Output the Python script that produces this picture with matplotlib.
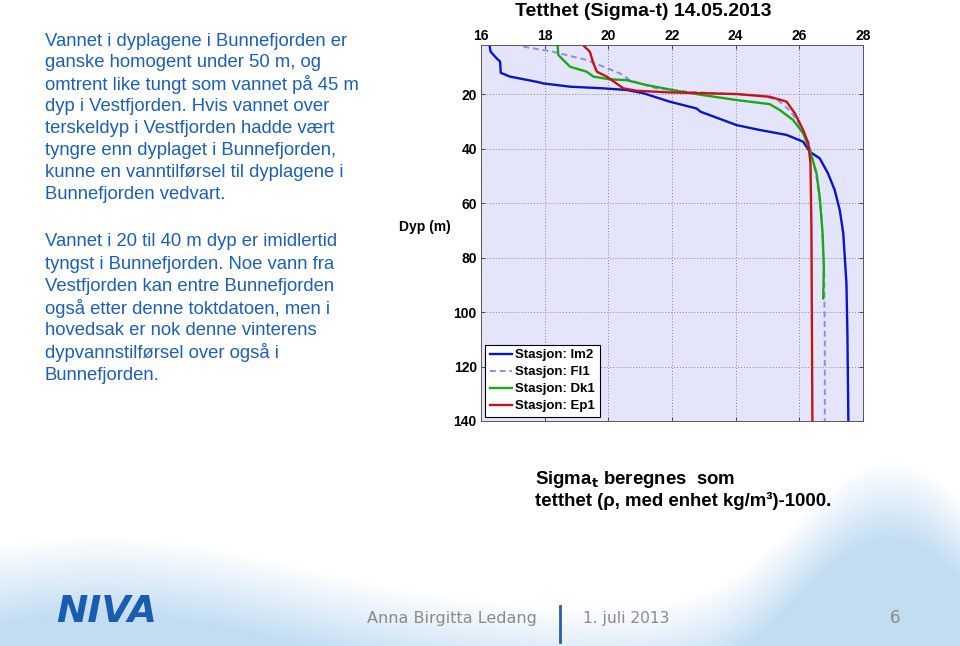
import numpy as np
import matplotlib
matplotlib.use("Agg")
import matplotlib.pyplot as plt
from matplotlib.lines import Line2D

# ---------------- data ----------------
im2_sigma = [16.26, 16.30, 16.49, 16.60, 16.62, 16.91, 17.75, 17.96, 18.80, 19.83, 20.57, 21.10,
             21.93, 22.77, 22.90, 24.03, 24.76, 25.60, 26.12, 26.33, 26.64, 26.90, 27.11, 27.27,
             27.38, 27.48, 27.51, 27.54]
im2_depth = [1.5, 4.4, 6.9, 8.1, 12.2, 13.6, 15.5, 16.1, 17.3, 17.9, 18.5, 19.7,
             22.8, 25.3, 26.5, 31.4, 33.2, 35.0, 37.5, 41.2, 43.6, 49.1, 55.2, 62.6,
             71.1, 89.5, 107.8, 139.6]

fl1_sigma = [17.33, 18.27, 19.32, 20.36, 20.68, 21.50, 22.46, 23.50, 24.70, 25.30, 25.70, 26.00,
             26.30, 26.54, 26.70, 26.78, 26.80, 26.80]
fl1_depth = [2.6, 4.5, 7.5, 12.4, 14.9, 17.9, 19.1, 19.8, 20.4, 22.0, 26.0, 31.0,
             38.0, 50.3, 65.0, 85.0, 110.0, 140.0]

dk1_sigma = [18.40, 18.43, 18.80, 19.32, 19.53, 20.05, 20.57, 21.20, 22.14, 22.98, 24.03, 25.07,
             25.39, 25.80, 26.12, 26.33, 26.54, 26.64, 26.73, 26.77, 26.75]
dk1_depth = [1.5, 5.7, 10.0, 11.8, 13.6, 14.6, 14.9, 16.7, 18.8, 20.4, 22.2, 23.7,
             25.9, 29.5, 34.4, 40.6, 49.1, 57.7, 71.1, 83.4, 95.0]

ep1_sigma = [19.16, 19.42, 19.53, 19.64, 19.95, 20.47, 20.89, 21.93, 24.03, 25.07, 25.60, 25.86,
             26.12, 26.28, 26.35, 26.38, 26.41]
ep1_depth = [1.5, 4.5, 8.7, 11.8, 13.6, 17.9, 18.8, 19.4, 20.0, 21.0, 22.8, 27.1,
             33.2, 38.1, 45.4, 69.9, 139.6]

station_labels = ["Stasjon: Im2", "Stasjon: Fl1", "Stasjon: Dk1", "Stasjon: Ep1"]
x_ticks = [16, 18, 20, 22, 24, 26, 28]
y_ticks = [20, 40, 60, 80, 100, 120, 140]

# ---------------- figure ----------------
W, H = 960, 646
fig = plt.figure(figsize=(W / 100, H / 100), dpi=100)
fig.patch.set_facecolor("white")

# decorative background wave
bg = fig.add_axes([0, 0, 1, 1], zorder=-10)
X, Y = np.meshgrid(np.arange(W), np.arange(H))
curve = 610 - 150 * np.exp(-((X - 890) / 130.0) ** 2) - 75 * np.exp(-((X - 100) / 280.0) ** 2)
a = np.clip((Y - curve) / 80.0, 0, 1) * 0.7
a = np.clip(a, 0, 1)
blue = np.array([0.66, 0.81, 0.93])
img = (1 - a[..., None]) * np.ones(3) + a[..., None] * blue
bg.imshow(img, extent=[0, W, H, 0], aspect="auto", interpolation="bilinear")
bg.set_xlim(0, W)
bg.set_ylim(H, 0)
bg.axis("off")

# chart axes
ax = fig.add_axes([481 / W, 1 - 421 / H, (863 - 481) / W, (421 - 45) / H])
ax.set_facecolor("#e4e4fa")
ax.plot(im2_sigma, im2_depth, color="#0a14c8", lw=1.7, label=station_labels[0])
ax.plot(fl1_sigma, fl1_depth, color="#8c8ce6", lw=1.4, ls=(0, (3, 2)), label=station_labels[1])
ax.plot(dk1_sigma, dk1_depth, color="#1aa81a", lw=1.7, label=station_labels[2])
ax.plot(ep1_sigma, ep1_depth, color="#c41414", lw=1.7, label=station_labels[3])

ax.set_xlim(16, 28)
ax.set_ylim(140, 2)
ax.xaxis.tick_top()
ax.set_xticks(x_ticks)
ax.set_yticks(y_ticks)
ax.tick_params(direction="in", length=3, width=0.6, colors="#333333", labelcolor="black",
               top=True, bottom=True, left=True, right=True)
ax.tick_params(axis="x", pad=1.5)
ax.tick_params(axis="y", pad=3)
for lab in ax.get_xticklabels() + ax.get_yticklabels():
    lab.set_fontfamily("Liberation Sans")
    lab.set_fontweight("bold")
    lab.set_fontsize(10)
ax.grid(True, ls=(0, (1, 2)), color="#888888", lw=0.7)
for s in ax.spines.values():
    s.set_color("#555555")
    s.set_linewidth(0.7)

leg = ax.legend(loc="lower left", frameon=True, fancybox=False, handlelength=1.7,
                borderpad=0.35, labelspacing=0.36, handletextpad=0.25, borderaxespad=0.3,
                prop={"family": "Liberation Sans", "weight": "bold", "size": 9.5})
leg.get_frame().set_edgecolor("black")
leg.get_frame().set_linewidth(0.8)
leg.get_frame().set_facecolor("white")
leg.get_frame().set_alpha(1)

fig.text(643 / W, 1 - 11 / H, "Tetthet (Sigma-t) 14.05.2013", ha="center", va="center",
         fontsize=14, fontweight="bold", family="Liberation Sans")
fig.text(425 / W, 1 - 227 / H, "Dyp (m)", ha="center", va="center",
         fontsize=10, fontweight="bold", family="Liberation Sans")

# left text
txt_color = "#1c5fb4"
para1 = ["Vannet i dyplagene i Bunnefjorden er",
         "ganske homogent under 50 m, og",
         "omtrent like tungt som vannet på 45 m",
         "dyp i Vestfjorden. Hvis vannet over",
         "terskeldyp i Vestfjorden hadde vært",
         "tyngre enn dyplaget i Bunnefjorden,",
         "kunne en vanntilførsel til dyplagene i",
         "Bunnefjorden vedvart."]
para2 = ["Vannet i 20 til 40 m dyp er imidlertid",
         "tyngst i Bunnefjorden. Noe vann fra",
         "Vestfjorden kan entre Bunnefjorden",
         "også etter denne toktdatoen, men i",
         "hovedsak er nok denne vinterens",
         "dypvannstilførsel over også i",
         "Bunnefjorden."]
y0 = 41
for i, line in enumerate(para1):
    fig.text(45 / W, 1 - (y0 + i * 21.9) / H, line, ha="left", va="center",
             fontsize=13.3, color=txt_color, family="Liberation Sans")
y1 = 242
for i, line in enumerate(para2):
    fig.text(45 / W, 1 - (y1 + i * 22.2) / H, line, ha="left", va="center",
             fontsize=13.3, color=txt_color, family="Liberation Sans")

# bottom right note
fig.text(535 / W, 1 - 479 / H, r"Sigma$_{\mathbf{t}}$ beregnes  som", ha="left", va="center",
         fontsize=13.4, fontweight="bold", family="Liberation Sans")
fig.text(535 / W, 1 - 501 / H, "tetthet (ρ, med enhet kg/m³)-1000.", ha="left", va="center",
         fontsize=13.4, fontweight="bold", family="Liberation Sans")

# footer
fig.text(56 / W, 1 - 612 / H, "NIVA", ha="left", va="center", fontsize=27,
         fontweight="bold", style="italic", color="#1a5cb0", family="DejaVu Sans")
fig.text(367 / W, 1 - 618 / H, "Anna Birgitta Ledang", ha="left", va="center",
         fontsize=11.5, color="#8a8a8a", family="DejaVu Sans")
fig.text(583 / W, 1 - 618 / H, "1. juli 2013", ha="left", va="center",
         fontsize=11.2, color="#8a8a8a", family="DejaVu Sans")
fig.text(900 / W, 1 - 618 / H, "6", ha="right", va="center",
         fontsize=12, color="#8a8a8a", family="DejaVu Sans")
fig.add_artist(Line2D([560 / W, 560 / W], [1 - 606 / H, 1 - 642 / H], color="#2a5fa8", lw=2))

fig.savefig("out.png", dpi=100)
